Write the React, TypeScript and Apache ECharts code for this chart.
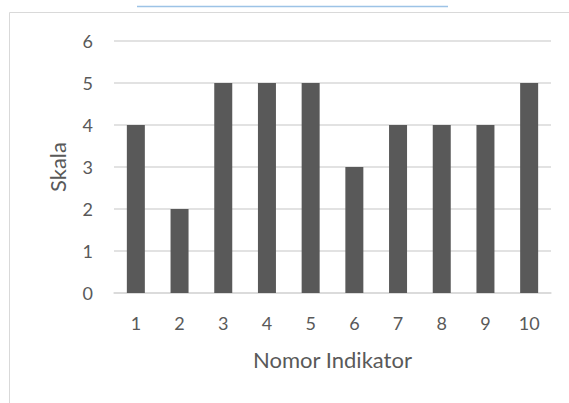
import React, { useEffect, useRef } from "react";
import * as echarts from "echarts";

const categories = ["1", "2", "3", "4", "5", "6", "7", "8", "9", "10"];
const values = [4, 2, 5, 5, 5, 3, 4, 4, 4, 5];
const xTitle = "Nomor Indikator";
const yTitle = "Skala";

const FONT = "Lato, 'Open Sans', sans-serif";
const TEXT = "#595959";

export default function App() {
  const ref = useRef<HTMLDivElement>(null);
  useEffect(() => {
    const chart = echarts.init(ref.current!, null, { renderer: "svg" });
    chart.setOption({
      animation: false,
      backgroundColor: "#ffffff",
      textStyle: { fontFamily: FONT },
      graphic: [
        {
          type: "line",
          shape: { x1: 137, y1: 6.5, x2: 448, y2: 6.5 },
          style: { stroke: "#9dc3e6", lineWidth: 1.5 },
          silent: true,
        },
        {
          type: "rect",
          shape: { x: 9.5, y: 12.5, width: 600, height: 420 },
          style: { fill: "none", stroke: "#d9d9d9", lineWidth: 1 },
          silent: true,
        },
      ],
      grid: { left: 114, right: 18, top: 41, bottom: 110, containLabel: false },
      xAxis: {
        type: "category",
        data: categories,
        name: xTitle,
        nameLocation: "middle",
        nameGap: 55,
        nameTextStyle: { color: TEXT, fontSize: 22, fontFamily: FONT },
        axisLine: { show: true, lineStyle: { color: "#d9d9d9", width: 1.5 } },
        axisTick: { show: false },
        axisLabel: { color: TEXT, fontSize: 18, margin: 21, fontFamily: FONT },
      },
      yAxis: {
        type: "value",
        min: 0,
        max: 6,
        interval: 1,
        name: yTitle,
        nameLocation: "middle",
        nameGap: 46,
        nameTextStyle: { color: TEXT, fontSize: 22, fontFamily: FONT },
        axisLine: { show: false },
        axisTick: { show: false },
        axisLabel: { color: TEXT, fontSize: 18, margin: 21, fontFamily: FONT },
        splitLine: { lineStyle: { color: "#d9d9d9", width: 1.5 } },
      },
      series: [
        {
          type: "bar",
          data: values,
          barWidth: 18,
          itemStyle: { color: "#595959" },
        },
      ],
    });
    return () => chart.dispose();
  }, []);
  return (
    <div
      ref={ref}
      style={{ position: "fixed", left: 0, top: 0, width: 569, height: 403 }}
    />
  );
}
